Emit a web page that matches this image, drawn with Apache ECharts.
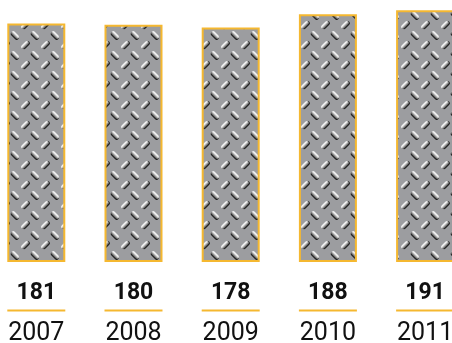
<!DOCTYPE html>
<html>
<head>
<meta charset="utf-8">
<script src="https://cdn.jsdelivr.net/npm/echarts@6/dist/echarts.min.js"></script>
<style>
  html, body { margin: 0; padding: 0; background: #ffffff; }
  #chart { width: 452px; height: 343px; }
</style>
</head>
<body>
<div id="chart"></div>
<script>
// Yearly totals
const years = ['2007', '2008', '2009', '2010', '2011'];
const values = [181, 180, 178, 188, 191];

const ACCENT = '#F5B830';

// Diamond-plate tile: staggered rows of raised lugs, alternating orientation
function makeTreadTile() {
  const size = 20;
  const c = document.createElement('canvas');
  c.width = size; c.height = size;
  const g = c.getContext('2d');
  g.fillStyle = '#9c9da0';
  g.fillRect(0, 0, size, size);

  function capsule(ctx, ox, oy, len, w) {
    const r = w / 2, h = len / 2 - r;
    ctx.beginPath();
    ctx.moveTo(ox - h, oy - r);
    ctx.lineTo(ox + h, oy - r);
    ctx.arc(ox + h, oy, r, -Math.PI / 2, Math.PI / 2);
    ctx.lineTo(ox - h, oy + r);
    ctx.arc(ox - h, oy, r, Math.PI / 2, Math.PI * 1.5);
    ctx.closePath();
    ctx.fill();
  }
  function lug(cx, cy, angle) {
    const len = 9.5, w = 4.2;
    for (const dx of [-size, 0, size]) {
      for (const dy of [-size, 0, size]) {
        g.save();
        g.translate(cx + dx, cy + dy);
        g.rotate(angle);
        // dark rim on the shadowed side
        g.fillStyle = '#1e1e1e';
        capsule(g, 0.5, 0.8, len, w);
        // body shaded from a bright top edge to a dark lower edge
        const grad = g.createLinearGradient(0, -w / 2, 0, w / 2);
        grad.addColorStop(0, '#ffffff');
        grad.addColorStop(0.35, '#e4e4e4');
        grad.addColorStop(0.7, '#8a8a8a');
        grad.addColorStop(1, '#3a3a3a');
        g.fillStyle = grad;
        capsule(g, 0, 0, len, w);
        g.restore();
      }
    }
  }
  lug(5, 5, -Math.PI / 4);
  lug(15, 15, Math.PI / 4);
  return c;
}

const chart = echarts.init(document.getElementById('chart'), null, { renderer: 'canvas' });

chart.setOption({
  animation: false,
  grid: {
    left: -12.3, width: 486, top: -1.6, bottom: 81,
    containLabel: false, outerBoundsMode: 'none'
  },
  xAxis: {
    type: 'category',
    data: years,
    axisLine: { show: false },
    axisTick: { show: false },
    axisLabel: {
      interval: 0,
      margin: 16,
      hideOverlap: false,
      formatter: function (cat, idx) {
        return '{v|' + values[idx] + '}\n{hr|}\n{y|' + cat + '}';
      },
      rich: {
        v: {
          fontFamily: 'Roboto', fontWeight: 'bold', fontSize: 23,
          color: '#111111', lineHeight: 30, align: 'center'
        },
        hr: {
          width: 58, height: 2, lineHeight: 5,
          backgroundColor: ACCENT, align: 'center'
        },
        y: {
          fontFamily: 'Roboto', fontSize: 25,
          color: '#111111', lineHeight: 42, align: 'center'
        }
      }
    }
  },
  yAxis: {
    type: 'value',
    min: 0,
    max: 200,
    show: false,
    splitLine: { show: false }
  },
  series: [{
    type: 'bar',
    data: values,
    barWidth: 58,
    itemStyle: {
      color: { image: makeTreadTile(), repeat: 'repeat' },
      borderColor: ACCENT,
      borderWidth: 2
    }
  }]
});
</script>
</body>
</html>
